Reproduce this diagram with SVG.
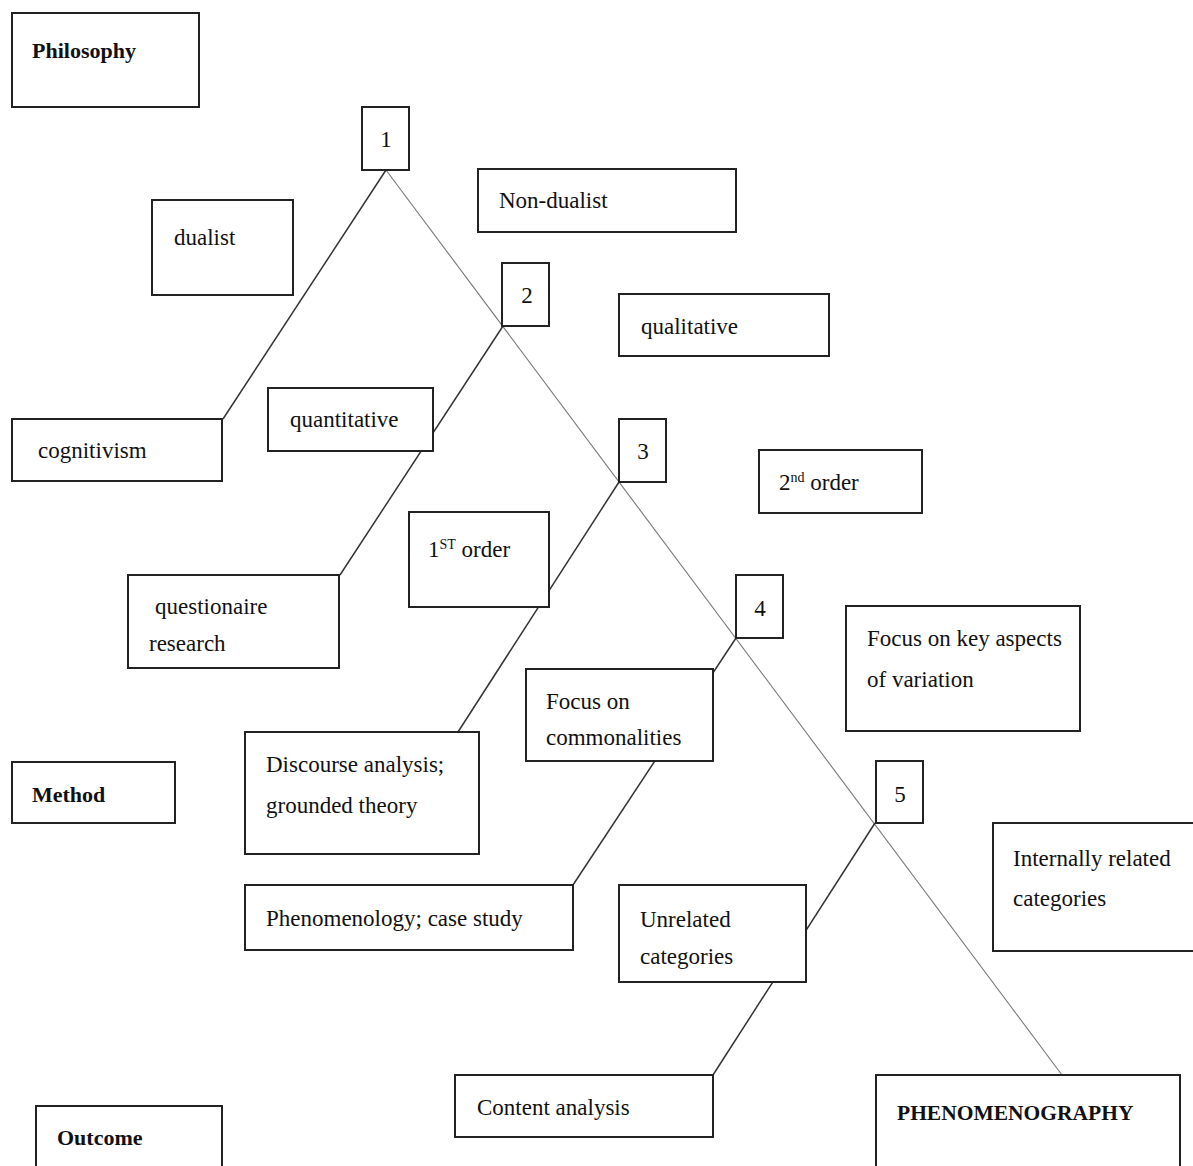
<svg xmlns="http://www.w3.org/2000/svg" width="1193" height="1166" viewBox="0 0 1193 1166">
<style>
.box{fill:#fff;stroke:#222;stroke-width:2}
.t{font-family:"Liberation Serif","Times New Roman",serif;font-size:23px;fill:#111}
.b{font-family:"Liberation Serif","Times New Roman",serif;font-size:22px;font-weight:bold;fill:#111}
.n{font-family:"Liberation Serif","Times New Roman",serif;font-size:23px;fill:#111;text-anchor:middle}
.sup{font-size:14px}
.dark{stroke:#333;stroke-width:1.5;fill:none}
.grey{stroke:#777;stroke-width:1.1;fill:none}
</style>
<rect width="1193" height="1166" fill="#fff"/>
<g id="connectors">
<line class="grey" x1="386" y1="170" x2="1062" y2="1075"/>
<line class="dark" x1="386" y1="170" x2="223" y2="419"/>
<line class="dark" x1="503" y1="326" x2="340" y2="575"/>
<line class="dark" x1="619" y1="482" x2="458" y2="732"/>
<line class="dark" x1="736" y1="638" x2="573" y2="885"/>
<line class="dark" x1="875" y1="823" x2="713" y2="1075"/>
</g>
<g id="philosophy"><rect class="box" x="12" y="13" width="187" height="94"/><text class="b" x="32" y="58">Philosophy</text></g>
<g id="n1"><rect class="box" x="362" y="107" width="47" height="63"/><text class="n" x="386" y="147">1</text></g>
<g id="dualist"><rect class="box" x="152" y="200" width="141" height="95"/><text class="t" x="174" y="245">dualist</text></g>
<g id="nondualist"><rect class="box" x="478" y="169" width="258" height="63"/><text class="t" x="499" y="208">Non-dualist</text></g>
<g id="n2"><rect class="box" x="502" y="263" width="47" height="63"/><text class="n" x="527" y="303">2</text></g>
<g id="qualitative"><rect class="box" x="619" y="294" width="210" height="62"/><text class="t" x="641" y="334">qualitative</text></g>
<g id="cognitivism"><rect class="box" x="12" y="419" width="210" height="62"/><text class="t" x="38" y="458">cognitivism</text></g>
<g id="quantitative"><rect class="box" x="268" y="388" width="165" height="63"/><text class="t" x="290" y="427">quantitative</text></g>
<g id="n3"><rect class="box" x="619" y="419" width="47" height="63"/><text class="n" x="643" y="459">3</text></g>
<g id="order2"><rect class="box" x="759" y="450" width="163" height="63"/><text class="t" x="779" y="490">2<tspan class="sup" dy="-8">nd</tspan><tspan dy="8"> order</tspan></text></g>
<g id="order1"><rect class="box" x="409" y="512" width="140" height="95"/><text class="t" x="428" y="557">1<tspan class="sup" dy="-8">ST</tspan><tspan dy="8"> order</tspan></text></g>
<g id="n4"><rect class="box" x="736" y="575" width="47" height="63"/><text class="n" x="760" y="616">4</text></g>
<g id="questionaire"><rect class="box" x="128" y="575" width="211" height="93"/><text class="t" x="155" y="614">questionaire</text><text class="t" x="149" y="651">research</text></g>
<g id="keyaspects"><rect class="box" x="846" y="606" width="234" height="125"/><text class="t" x="867" y="646">Focus on key aspects</text><text class="t" x="867" y="687">of variation</text></g>
<g id="commonalities"><rect class="box" x="526" y="669" width="187" height="92"/><text class="t" x="546" y="709">Focus on</text><text class="t" x="546" y="745">commonalities</text></g>
<g id="method"><rect class="box" x="12" y="762" width="163" height="61"/><text class="b" x="32" y="802">Method</text></g>
<g id="discourse"><rect class="box" x="245" y="732" width="234" height="122"/><text class="t" x="266" y="772">Discourse analysis;</text><text class="t" x="266" y="813">grounded theory</text></g>
<g id="n5"><rect class="box" x="876" y="761" width="47" height="62"/><text class="n" x="900" y="802">5</text></g>
<g id="internally"><rect class="box" x="993" y="823" width="210" height="128"/><text class="t" x="1013" y="866">Internally related</text><text class="t" x="1013" y="906">categories</text></g>
<g id="phenomenology"><rect class="box" x="245" y="885" width="328" height="65"/><text class="t" x="266" y="926">Phenomenology; case study</text></g>
<g id="unrelated"><rect class="box" x="619" y="885" width="187" height="97"/><text class="t" x="640" y="927">Unrelated</text><text class="t" x="640" y="964">categories</text></g>
<g id="content"><rect class="box" x="455" y="1075" width="258" height="62"/><text class="t" x="477" y="1115">Content analysis</text></g>
<g id="phenomenography"><rect class="box" x="876" y="1075" width="304" height="110"/><text class="b" x="897" y="1120" style="font-size:21.5px">PHENOMENOGRAPHY</text></g>
<g id="outcome"><rect class="box" x="36" y="1106" width="186" height="80"/><text class="b" x="57" y="1145">Outcome</text></g>
</svg>
